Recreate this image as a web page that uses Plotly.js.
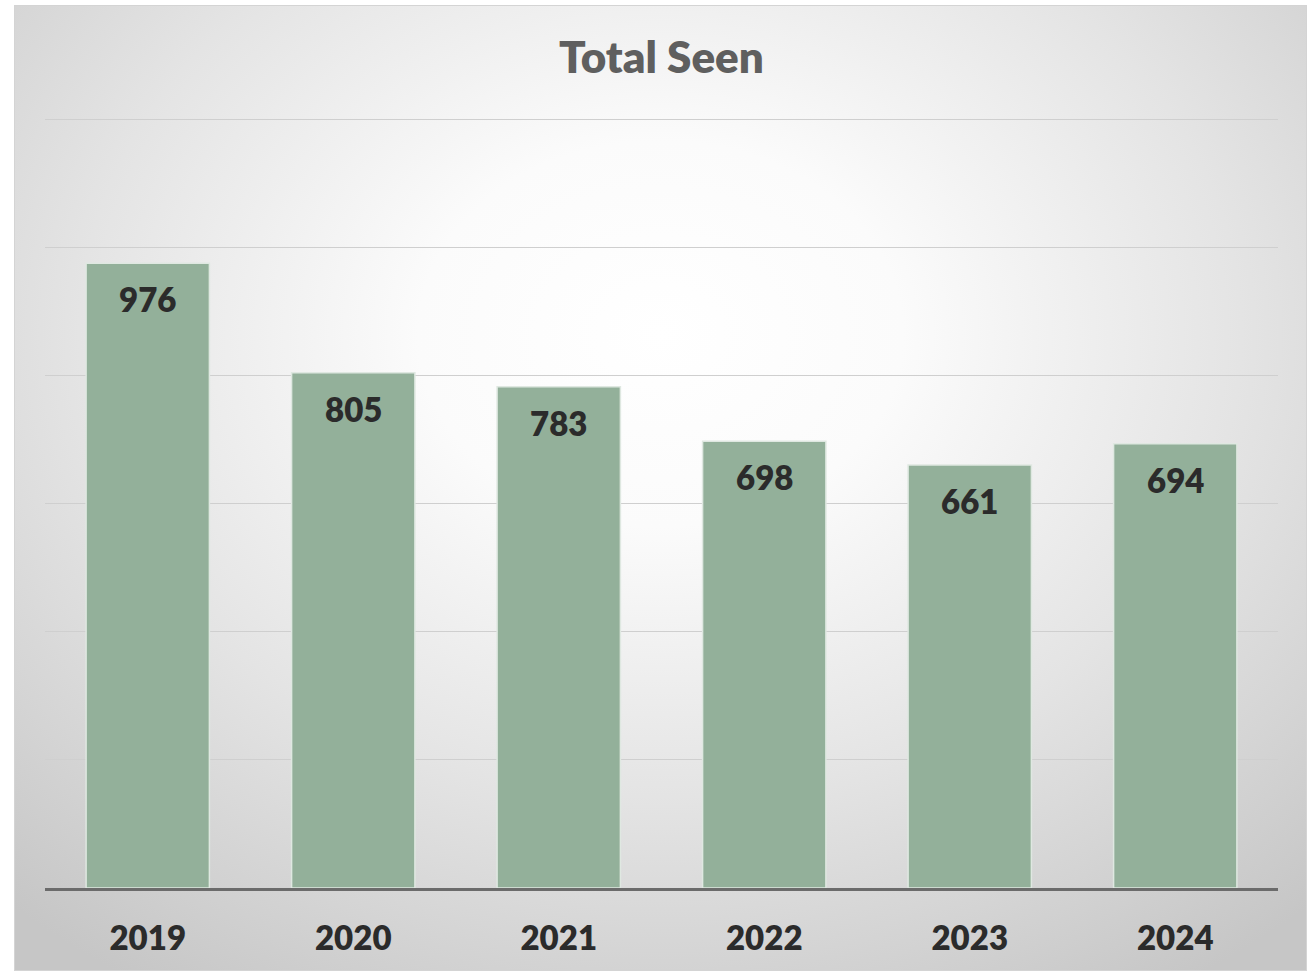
<!DOCTYPE html>
<html>
<head>
<meta charset="utf-8">
<script src="https://cdn.plot.ly/plotly-3.0.1.min.js"></script>
<style>
  html, body { margin: 0; padding: 0; background: #ffffff; width: 1314px; height: 971px; overflow: hidden; }
  #chart {
    position: absolute; left: 14px; top: 5px; width: 1293px; height: 966px;
    box-sizing: border-box; border: 1px solid #d4d4d4;
    background: radial-gradient(ellipse 75% 80% at 50% 34%, #ffffff 0%, #fbfbfb 25%, #e4e4e4 60%, #c6c6c6 100%);
  }
</style>
</head>
<body>
<div id="chart"></div>
<script>
const years = ["2019", "2020", "2021", "2022", "2023", "2024"];
const totalSeen = [976, 805, 783, 698, 661, 694];
const chartTitle = "Total Seen";

const FONT = "Lato, 'Open Sans', sans-serif";

const trace = {
  type: "bar",
  x: years,
  y: totalSeen,
  marker: { color: "#93b09a", line: { color: "#dfe8e1", width: 1.5 } },
  hoverinfo: "x+y"
};

const labels = years.map((yr, i) => ({
  x: i, y: totalSeen[i], xref: "x", yref: "y",
  text: String(totalSeen[i]),
  showarrow: false, yanchor: "middle", yshift: -36,
  font: { family: FONT, size: 33, color: "#2b2b2b", weight: 800 }
}));

const layout = {
  width: 1291, height: 964,
  margin: { l: 30, r: 28, t: 112, b: 82 },
  paper_bgcolor: "rgba(0,0,0,0)",
  plot_bgcolor: "rgba(0,0,0,0)",
  title: {
    text: chartTitle,
    font: { family: FONT, size: 44, color: "#5f5f5f", weight: 800 },
    x: 0.5, xanchor: "center", xref: "paper",
    y: 1 - 52 / 964, yanchor: "middle", yref: "container"
  },
  bargap: 0.4,
  showlegend: false,
  xaxis: {
    type: "category",
    categoryorder: "array", categoryarray: years,
    range: [-0.5, years.length - 0.5],
    showgrid: false,
    showline: true, linecolor: "#6b6b6b", linewidth: 3,
    ticks: "outside", ticklen: 19, tickcolor: "rgba(0,0,0,0)",
    tickfont: { family: FONT, size: 33, color: "#2b2b2b", weight: 800 },
    zeroline: false
  },
  yaxis: {
    range: [0, 1203],
    dtick: 200, tick0: 0,
    showticklabels: false,
    showgrid: true, gridcolor: "#cfcfcf", gridwidth: 1,
    zeroline: false, showline: false, ticks: ""
  },
  annotations: labels
};

Plotly.newPlot("chart", [trace], layout, { displayModeBar: false, staticPlot: true });
</script>
</body>
</html>
